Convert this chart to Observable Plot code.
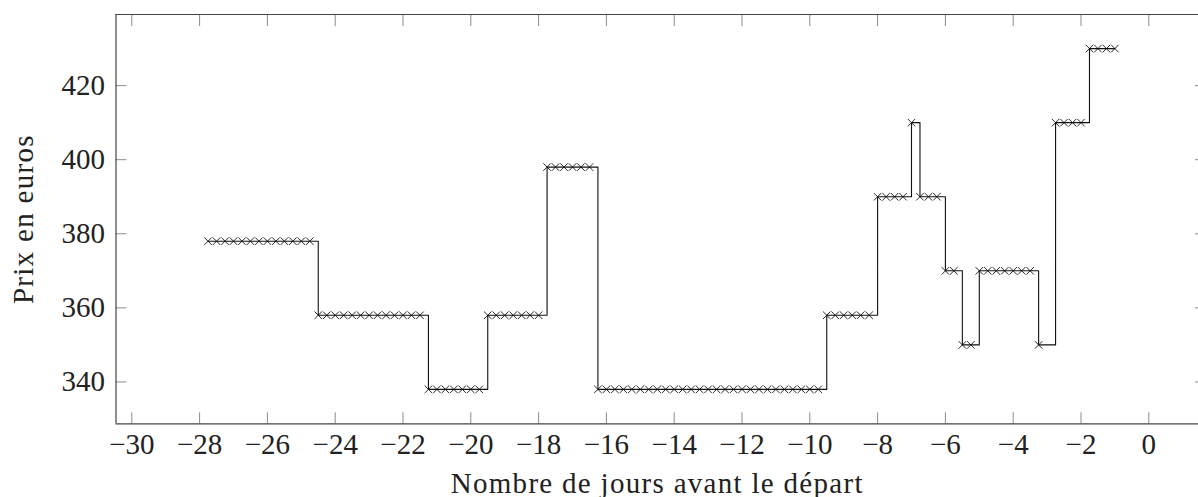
<!DOCTYPE html>
<html>
<head>
<meta charset="utf-8">
<script src="https://cdn.jsdelivr.net/npm/d3@7"></script>
<script src="https://cdn.jsdelivr.net/npm/@observablehq/plot@0.6"></script>
<style>
  html, body { margin: 0; padding: 0; background: #fff; overflow: hidden; }
  #chart svg, #chart svg text { font-family: "Liberation Serif", "DejaVu Serif", serif !important; }
</style>
</head>
<body>
<div id="chart"></div>
<script>
// Observation times (days before departure), one reading every 6 hours
const days = [
  -27.75, -27.5, -27.25, -27, -26.75, -26.5, -26.25, -26, -25.75, -25.5, -25.25, -25, -24.75,
  -24.5, -24.25, -24, -23.75, -23.5, -23.25, -23, -22.75, -22.5, -22.25, -22, -21.75, -21.5,
  -21.25, -21, -20.75, -20.5, -20.25, -20, -19.75,
  -19.5, -19.25, -19, -18.75, -18.5, -18.25, -18,
  -17.75, -17.5, -17.25, -17, -16.75, -16.5,
  -16.25, -16, -15.75, -15.5, -15.25, -15, -14.75, -14.5, -14.25, -14, -13.75, -13.5, -13.25,
  -13, -12.75, -12.5, -12.25, -12, -11.75, -11.5, -11.25, -11, -10.75, -10.5, -10.25, -10, -9.75,
  -9.5, -9.25, -9, -8.75, -8.5, -8.25,
  -8, -7.75, -7.5, -7.25,
  -7,
  -6.75, -6.5, -6.25,
  -6, -5.75,
  -5.5, -5.25,
  -5, -4.75, -4.5, -4.25, -4, -3.75, -3.5,
  -3.25,
  -2.75, -2.5, -2.25, -2,
  -1.75, -1.5, -1.25, -1
];

// Ticket price in euros at each observation
const prices = [
  378, 378, 378, 378, 378, 378, 378, 378, 378, 378, 378, 378, 378,
  358, 358, 358, 358, 358, 358, 358, 358, 358, 358, 358, 358, 358,
  338, 338, 338, 338, 338, 338, 338,
  358, 358, 358, 358, 358, 358, 358,
  398, 398, 398, 398, 398, 398,
  338, 338, 338, 338, 338, 338, 338, 338, 338, 338, 338, 338, 338,
  338, 338, 338, 338, 338, 338, 338, 338, 338, 338, 338, 338, 338, 338,
  358, 358, 358, 358, 358, 358,
  390, 390, 390, 390,
  410,
  390, 390, 390,
  370, 370,
  350, 350,
  370, 370, 370, 370, 370, 370, 370,
  350,
  410, 410, 410, 410,
  430, 430, 430, 430
];

const xTicks = [-30, -28, -26, -24, -22, -20, -18, -16, -14, -12, -10, -8, -6, -4, -2, 0];
const yTicks = [340, 360, 380, 400, 420];

const xLabel = "Nombre de jours avant le départ";
const yLabel = "Prix en euros";

const data = days.map((d, i) => ({day: d, price: prices[i]}));

const xDomain = [-30.466, 1.466];
const yDomain = [328.7, 439.2];

const fmt = d => (d < 0 ? "\u2212" + Math.abs(d) : String(d));
const tickColor = "#8a8a8a";
const frameColor = "#444";
const font = 29;

const chart = Plot.plot({
  width: 1198,
  height: 497,
  marginLeft: 115.5,
  marginRight: 0,
  marginTop: 14,
  marginBottom: 73.7,
  style: {background: "#fff", color: "#222"},
  x: {domain: xDomain, axis: null},
  y: {domain: yDomain, axis: null},
  marks: [
    // inward ticks on bottom, top, left and right
    Plot.axisX(xTicks, {anchor: "bottom", tickSize: -11, tickFormat: () => "", label: null, stroke: tickColor, strokeWidth: 1}),
    Plot.axisX(xTicks, {anchor: "top", tickSize: -11, tickFormat: () => "", label: null, stroke: tickColor, strokeWidth: 1}),
    Plot.axisY(yTicks, {anchor: "left", tickSize: -11, tickFormat: () => "", label: null, stroke: tickColor, strokeWidth: 1}),
    Plot.axisY(yTicks, {anchor: "right", tickSize: -4, tickFormat: () => "", label: null, stroke: tickColor, strokeWidth: 1}),
    // tick labels
    Plot.axisX(xTicks, {anchor: "bottom", tickSize: 0, tickPadding: 9.5, tickFormat: fmt, label: null, fontSize: font, fill: "#222"}),
    Plot.axisY(yTicks, {anchor: "left", tickSize: 0, tickPadding: 11, tickFormat: fmt, label: null, fontSize: font, fill: "#222"}),
    // frame (left, bottom, top)
    Plot.ruleX([xDomain[0]], {stroke: frameColor, strokeWidth: 1.2}),
    Plot.ruleY([yDomain[0], yDomain[1]], {stroke: frameColor, strokeWidth: 1.2}),
    // price steps and observation markers
    Plot.line(data, {x: "day", y: "price", curve: "step-after", stroke: "#111", strokeWidth: 1.1}),
    Plot.dot(data, {x: "day", y: "price", symbol: "times", r: 3.5, stroke: "#111", strokeWidth: 0.9}),
    // axis titles
    Plot.text([xLabel], {frameAnchor: "bottom", dy: 68.7, lineAnchor: "bottom", textAnchor: "middle", fontSize: font, fill: "#222"}),
    Plot.text([yLabel], {frameAnchor: "left", dx: -83, rotate: -90, lineAnchor: "bottom", textAnchor: "middle", fontSize: font, fill: "#222"})
  ]
});

document.getElementById("chart").appendChild(chart);
// slightly wider letterforms for the axis titles
chart.querySelectorAll("text").forEach(t => {
  if (t.textContent === xLabel || t.textContent === yLabel) t.setAttribute("letter-spacing", "1.3");
});
</script>
</body>
</html>
